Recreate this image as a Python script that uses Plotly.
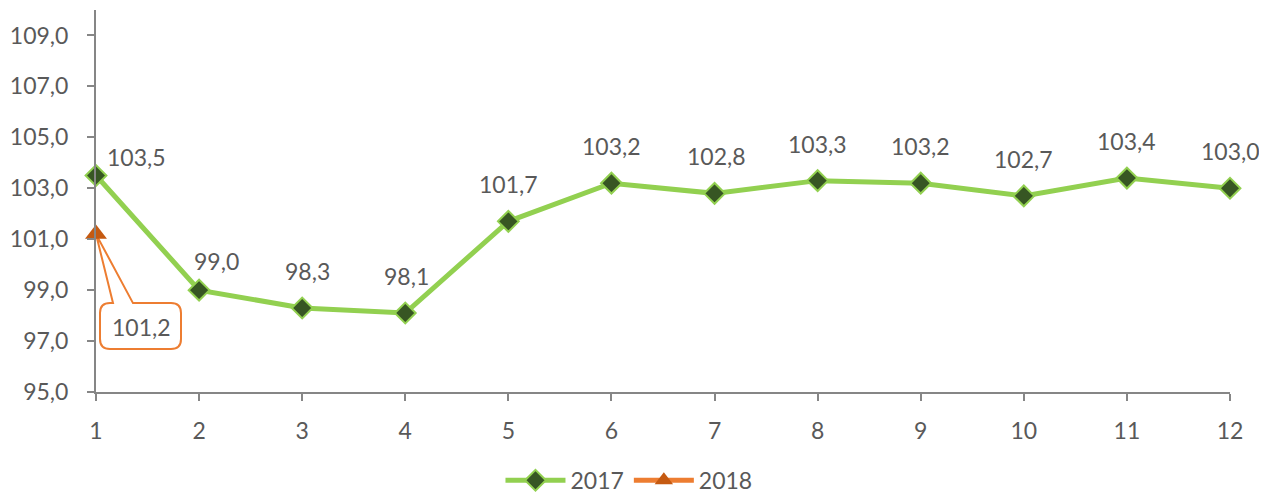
import plotly.graph_objects as go

months = list(range(1, 13))
vals_2017 = [103.5, 99.0, 98.3, 98.1, 101.7, 103.2, 102.8, 103.3, 103.2, 102.7, 103.4, 103.0]
months_2018 = [1]
vals_2018 = [101.2]
y_ticks = [95, 97, 99, 101, 103, 105, 107, 109]

FONT = "Lato, 'Open Sans', sans-serif"
GREY = "#595959"
AXIS = "#868686"


def fmt(v):
    return f"{v:.1f}".replace(".", ",")


fig = go.Figure()
fig.add_trace(go.Scatter(
    x=months, y=vals_2017, name="2017", mode="lines+markers",
    line=dict(color="#92D050", width=5),
    marker=dict(symbol="diamond", size=16, color="#375623",
                line=dict(color="#92D050", width=2)),
    cliponaxis=False,
))
fig.add_trace(go.Scatter(
    x=months_2018, y=vals_2018, name="2018", mode="lines+markers",
    line=dict(color="#ED7D31", width=5),
    marker=dict(symbol="triangle-up", size=19, color="#C55A11"),
    cliponaxis=False,
))

# Datenlabels 2017 (leicht versetzt wie im Original)
xshift = [40, 17] + [5, 1, 0, 0, 2, 0, 0, 0, 0, 0]
yshift = [19, 29] + [37] * 10
for m, v, dx, dy in zip(months, vals_2017, xshift, yshift):
    fig.add_annotation(x=m, y=v, text=fmt(v), showarrow=False, xshift=dx, yshift=dy,
                       font=dict(size=23, color=GREY, family=FONT))

# Callout 2018: abgerundete Box mit Spitze zum Punkt (Pixel-Offsets)
callout = ("M 0,0 L 37,-69 L 75,-69 Q 85,-69 85,-79 L 85,-105 Q 85,-115 75,-115 "
           "L 14,-115 Q 4,-115 4,-105 L 4,-79 Q 4,-69 14,-69 L 17,-69 Z")
fig.add_shape(type="path", xref="x", yref="y", xsizemode="pixel", ysizemode="pixel",
              xanchor=months_2018[0], yanchor=vals_2018[0], path=callout,
              line=dict(color="#ED7D31", width=2), fillcolor="white", layer="below")
fig.add_annotation(x=months_2018[0], y=vals_2018[0], text=fmt(vals_2018[0]),
                   showarrow=False, xshift=45, yshift=-93,
                   font=dict(size=23, color=GREY, family=FONT))

fig.update_layout(
    width=1267, height=492,
    margin=dict(l=82, r=45, t=2, b=108),
    plot_bgcolor="white", paper_bgcolor="white",
    font=dict(family=FONT, color=GREY, size=23),
    showlegend=True,
    legend=dict(orientation="h", x=0.47, xanchor="center", yref="container",
                y=0.04, yanchor="middle", font=dict(size=23, color=GREY),
                itemwidth=60),
)
fig.update_xaxes(range=[1, 12], tickvals=months, showline=True, linecolor=AXIS,
                 linewidth=2, ticks="outside", ticklen=7, tickcolor=AXIS, tickwidth=2,
                 ticklabelstandoff=10, showgrid=False, zeroline=False)
fig.update_yaxes(range=[95, 110], tickvals=y_ticks, ticktext=[fmt(t) for t in y_ticks],
                 showline=True, linecolor=AXIS, linewidth=2, ticks="outside",
                 ticklen=7, tickcolor=AXIS, tickwidth=2, ticklabelstandoff=14,
                 showgrid=False, zeroline=False)

fig.write_html("out.html")
